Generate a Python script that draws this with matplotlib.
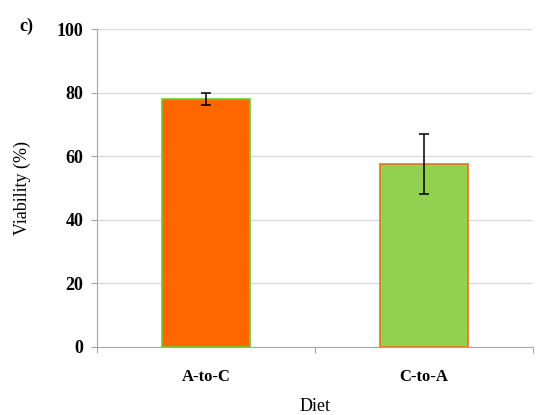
import matplotlib.pyplot as plt
import numpy as np

plt.rcParams['font.family'] = ['Liberation Serif', 'DejaVu Serif']

# viability per diet switch
diets = ['A-to-C', 'C-to-A']
viability = [78, 57.5]
err = [2, 9.5]
fill = ['#FF6600', '#92D050']
edge = ['#66CC33', '#E8731A']

fig = plt.figure(figsize=(5.42, 4.15), dpi=100)
ax = fig.add_axes([0.179, 0.164, 0.804, 0.766])

x = np.arange(len(diets))
ax.bar(x, viability, width=0.405, color=fill, edgecolor=edge, linewidth=1.2, zorder=3)
ax.errorbar(x, viability, yerr=err, fmt='none', ecolor='black', elinewidth=1.1,
            capsize=3.5, capthick=1.1, zorder=4)

ax.set_xlim(-0.5, 1.5)
ax.set_ylim(0, 100)
ax.set_yticks([0, 20, 40, 60, 80, 100])
ax.set_yticklabels(['0', '20', '40', '60', '80', '100'], fontweight='bold', fontsize=13)
ax.yaxis.grid(True, color='#d9d9d9', linewidth=0.9, zorder=0)

# category labels between Excel-style boundary ticks
ax.set_xticks([-0.5, 0.5, 1.5])
ax.set_xticklabels([])
ax.set_xticks(x, minor=True)
ax.set_xticklabels(diets, minor=True, fontweight='bold', fontsize=12)
ax.tick_params(axis='x', which='minor', length=0, pad=16)
ax.tick_params(axis='x', which='major', length=4, color='#a6a6a6')
ax.tick_params(axis='y', length=4, color='#a6a6a6', pad=6)

for s in ['top', 'right']:
    ax.spines[s].set_visible(False)
for s in ['left', 'bottom']:
    ax.spines[s].set_color('#a6a6a6')

ax.set_xlabel('Diet', fontsize=13, labelpad=9)
ax.set_ylabel('Viability (%)', fontsize=13, labelpad=18)
fig.text(0.035, 0.925, 'c)', fontsize=13, fontweight='bold')

fig.savefig('out.png', dpi=100)
